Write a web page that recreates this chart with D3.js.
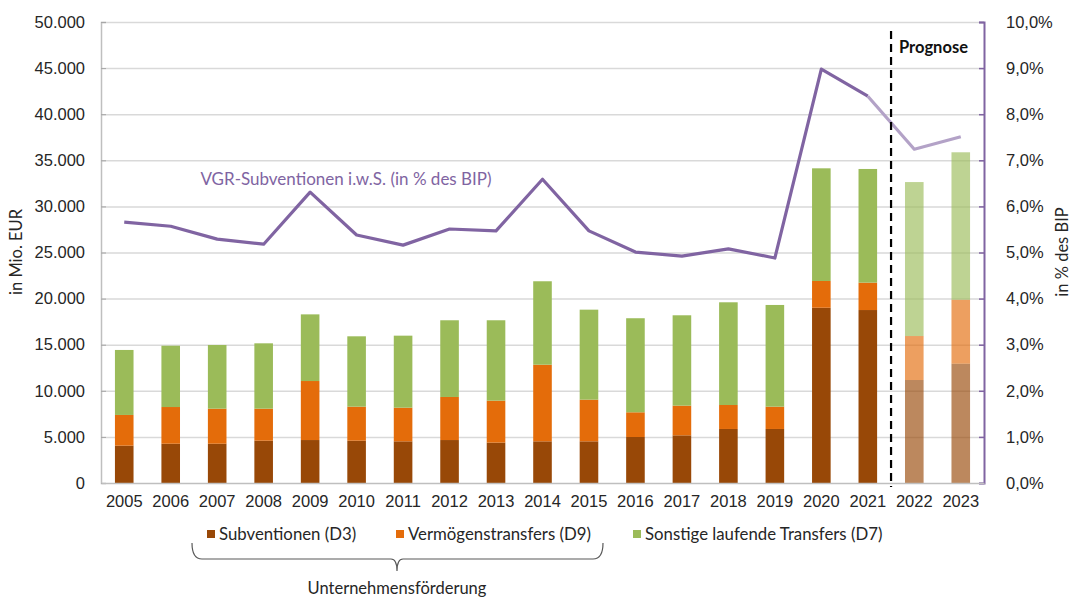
<!DOCTYPE html>
<html>
<head>
<meta charset="utf-8">
<script src="https://cdn.jsdelivr.net/npm/d3@7"></script>
<style>
  body { margin: 0; background: #fff; }
  svg { font-family: Lato, "Open Sans", sans-serif; }
  text { fill: #262626; }
</style>
</head>
<body>
<svg id="chart" width="1074" height="598"></svg>
<script>
var years = ["2005", "2006", "2007", "2008", "2009", "2010", "2011", "2012", "2013", "2014",
  "2015", "2016", "2017", "2018", "2019", "2020", "2021", "2022", "2023"];
var forecastYears = ["2022", "2023"];

// Mio. EUR
var subventionen = [4050, 4260, 4260, 4590, 4660, 4590, 4520, 4660, 4380, 4520,
  4520, 4990, 5170, 5860, 5860, 19010, 18760, 11170, 12940];
var vermoegen = [3330, 3980, 3800, 3470, 6400, 3690, 3650, 4670, 4550, 8310,
  4520, 2680, 3220, 2600, 2420, 2900, 2970, 4770, 6940];
var sonstige = [7050, 6650, 6910, 7090, 7230, 7630, 7810, 8320, 8720, 9050,
  9760, 10200, 9800, 11140, 11030, 12220, 12330, 16700, 15990];

// in % des BIP
var quote = [5.66, 5.57, 5.29, 5.18, 6.31, 5.38, 5.16, 5.51, 5.47, 6.59,
  5.47, 5.01, 4.92, 5.08, 4.88, 8.98, 8.39, 7.24, 7.51];

var leftTicks = [0, 5000, 10000, 15000, 20000, 25000, 30000, 35000, 40000, 45000, 50000];
var rightTicks = [0, 1, 2, 3, 4, 5, 6, 7, 8, 9, 10];

var seriesNames = ["Subventionen (D3)", "Vermögenstransfers (D9)", "Sonstige laufende Transfers (D7)"];
var seriesColors = ["#984807", "#E46C0A", "#9BBB59"];

var svg = d3.select("#chart");
var plotLeft = 101, plotRight = 984, plotTop = 22, plotBottom = 483;
var fs = "16.5px";

var x = d3.scaleBand().domain(years).range([plotLeft, plotRight]).paddingInner(0.6).paddingOuter(0.3);
var y = d3.scaleLinear().domain([0, 50000]).range([plotBottom, plotTop]);
var y2 = d3.scaleLinear().domain([0, 10]).range([plotBottom, plotTop]);

var fmtDe = d3.formatLocale({ decimal: ",", thousands: ".", grouping: [3], currency: ["", " €"] });
var fmtLeft = fmtDe.format(",.0f");
var fmtRight = function (d) { return fmtDe.format(".1f")(d) + "%"; };

// gridlines
svg.append("g").selectAll("line").data(leftTicks.slice(1)).enter().append("line")
  .attr("x1", plotLeft).attr("x2", plotRight)
  .attr("y1", function (d) { return y(d) + 0.5; })
  .attr("y2", function (d) { return y(d) + 0.5; })
  .attr("stroke", "#d9d9d9").attr("stroke-width", 1.5);

// stacked bars
var rows = years.map(function (yr, i) {
  return { year: yr, s0: subventionen[i], s1: vermoegen[i], s2: sonstige[i] };
});
var stack = d3.stack().keys(["s0", "s1", "s2"]);
var layers = stack(rows);

svg.append("g").selectAll("g").data(layers).enter().append("g")
  .attr("fill", function (d, i) { return seriesColors[i]; })
  .selectAll("rect").data(function (d) { return d; }).enter().append("rect")
  .attr("x", function (d) { return x(d.data.year); })
  .attr("width", x.bandwidth())
  .attr("y", function (d) { return y(d[1]); })
  .attr("height", function (d) { return y(d[0]) - y(d[1]); })
  .attr("fill-opacity", function (d) { return forecastYears.indexOf(d.data.year) >= 0 ? 0.65 : 1; });

// axes
var axL = svg.append("g").attr("transform", "translate(" + plotLeft + ",0)")
  .call(d3.axisLeft(y).tickValues(leftTicks).tickFormat(fmtLeft).tickSize(-5).tickPadding(16));
axL.select(".domain").attr("stroke", "#bfbfbf").attr("stroke-width", 1.5);
axL.selectAll(".tick line").attr("stroke", "#a6a6a6");
axL.selectAll("text").style("font-size", fs).attr("fill", "#262626");

var axR = svg.append("g").attr("transform", "translate(" + plotRight + ",0)")
  .call(d3.axisRight(y2).tickValues(rightTicks).tickFormat(fmtRight).tickSize(-5).tickPadding(22));
axR.select(".domain").attr("stroke", "#8064A2").attr("stroke-width", 2);
axR.selectAll(".tick line").attr("stroke", "#8064A2").attr("stroke-width", 1.5);
axR.selectAll("text").style("font-size", fs).attr("fill", "#262626");

var axB = svg.append("g").attr("transform", "translate(0," + plotBottom + ")")
  .call(d3.axisBottom(x).tickSize(0).tickPadding(12));
axB.select(".domain").attr("stroke", "#bfbfbf").attr("stroke-width", 1.5);
axB.selectAll("text").style("font-size", fs).attr("fill", "#262626");

// axis titles
svg.append("text").attr("transform", "translate(22,252) rotate(-90)")
  .attr("text-anchor", "middle").style("font-size", fs).text("in Mio. EUR");
svg.append("text").attr("transform", "translate(1068,252) rotate(-90)")
  .attr("text-anchor", "middle").style("font-size", fs).text("in % des BIP");

// line
var cx = function (i) { return x(years[i]) + x.bandwidth() / 2; };
var lineGen = d3.line().x(function (d) { return cx(d.i); }).y(function (d) { return y2(d.v); });
var pts = quote.map(function (v, i) { return { i: i, v: v }; });
var nHist = years.indexOf(forecastYears[0]);

svg.append("path").datum(pts.slice(0, nHist))
  .attr("d", lineGen).attr("fill", "none")
  .attr("stroke", "#8064A2").attr("stroke-width", 3.2).attr("stroke-linejoin", "round");
svg.append("path").datum(pts.slice(nHist - 1))
  .attr("d", lineGen).attr("fill", "none")
  .attr("stroke", "#B3A2C7").attr("stroke-width", 3.2).attr("stroke-linejoin", "round");

svg.append("text").attr("x", 346).attr("y", 185).attr("text-anchor", "middle")
  .style("font-size", "17px").style("fill", "#8064A2")
  .text("VGR-Subventionen i.w.S. (in % des BIP)");

// forecast separator
var sepX = (cx(nHist - 1) + cx(nHist)) / 2;
svg.append("line").attr("x1", sepX).attr("x2", sepX).attr("y1", 31).attr("y2", plotBottom + 4)
  .attr("stroke", "#000").attr("stroke-width", 2.2).attr("stroke-dasharray", "8,5");
svg.append("text").attr("x", 899).attr("y", 53)
  .style("font-size", "16.5px").style("font-weight", "bold").style("fill", "#111").text("Prognose");

// legend
var legendX = [207, 396, 633];
var lg = svg.append("g").selectAll("g").data(seriesNames).enter().append("g")
  .attr("transform", function (d, i) { return "translate(" + legendX[i] + ",534)"; });
lg.append("rect").attr("x", 0).attr("y", -4).attr("width", 8).attr("height", 8)
  .attr("fill", function (d, i) { return seriesColors[i]; });
lg.append("text").attr("x", 12).attr("y", 6).style("font-size", "16.8px").text(function (d) { return d; });

// brace
var bx0 = 192, bx1 = 603, bmid = 397, by0 = 543, by1 = 559, byp = 571;
svg.append("path")
  .attr("d", "M" + bx0 + "," + by0 + " Q" + bx0 + "," + by1 + " " + (bx0 + 10) + "," + by1 +
    " L" + (bmid - 6) + "," + by1 + " Q" + bmid + "," + by1 + " " + bmid + "," + byp +
    " Q" + bmid + "," + by1 + " " + (bmid + 6) + "," + by1 +
    " L" + (bx1 - 10) + "," + by1 + " Q" + bx1 + "," + by1 + " " + bx1 + "," + by0)
  .attr("fill", "none").attr("stroke", "#595959").attr("stroke-width", 1.2);
svg.append("text").attr("x", bmid).attr("y", 594).attr("text-anchor", "middle")
  .style("font-size", fs).text("Unternehmensförderung");
</script>
</body>
</html>
